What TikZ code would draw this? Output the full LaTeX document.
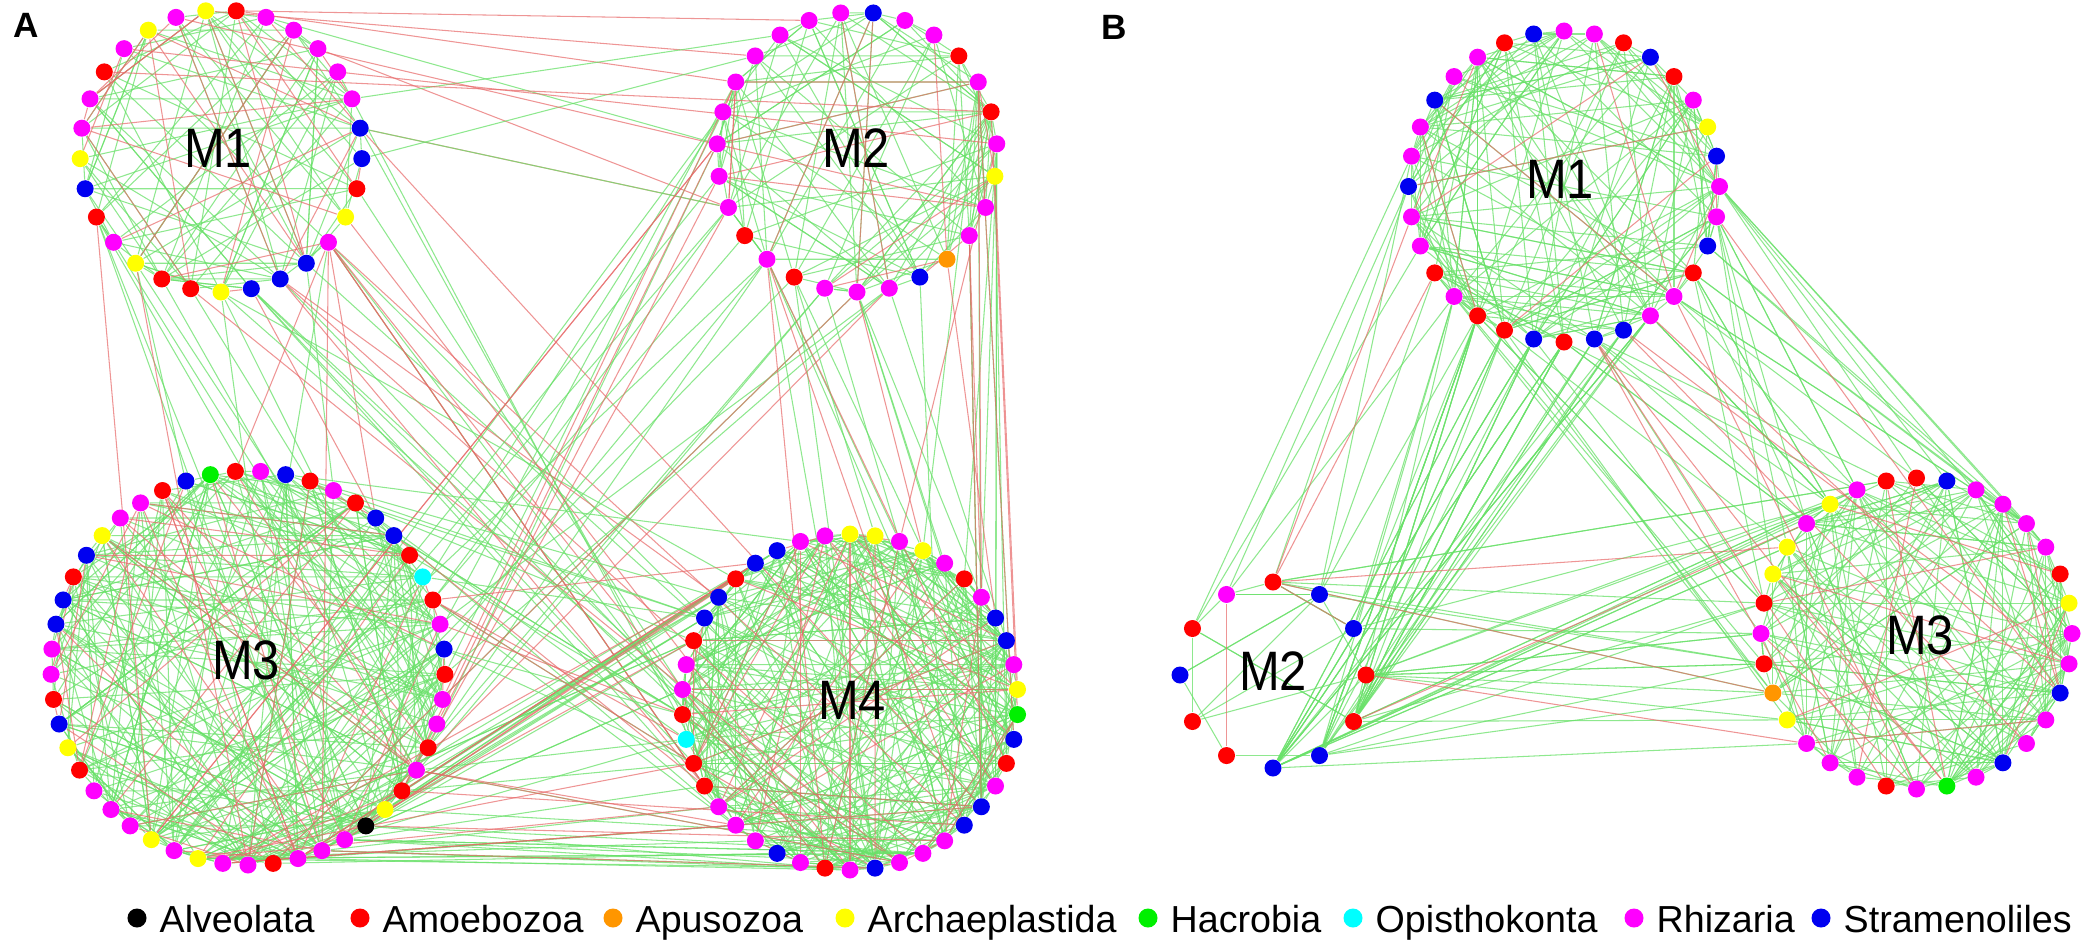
\documentclass[tikz,border=0pt]{standalone}
\usepackage[svgnames,dvipsnames]{xcolor}
\usepackage{fontspec}
\setmainfont{Liberation Sans}
\newfontfamily\labfont[FakeStretch=0.88]{Liberation Sans}
\usetikzlibrary{calc,backgrounds}
\definecolor{cK}{RGB}{0,0,0}
\definecolor{cR}{RGB}{255,0,0}
\definecolor{cO}{RGB}{255,150,0}
\definecolor{cY}{RGB}{255,255,0}
\definecolor{cG}{RGB}{0,240,0}
\definecolor{cC}{RGB}{0,255,255}
\definecolor{cM}{RGB}{255,0,255}
\definecolor{cB}{RGB}{0,0,240}
\definecolor{edgeG}{RGB}{105,225,105}
\definecolor{edgeR}{RGB}{232,105,105}
\tikzset{
  dot/.style={circle,inner sep=0pt,minimum size=0.17cm},
  gl/.style={edgeG,line width=0.3pt,opacity=0.75},
  rl/.style={edgeR,line width=0.3pt,opacity=0.7},
  modlab/.style={font=\labfont\fontsize{15.8}{18}\selectfont},
  panel/.style={font=\fontsize{10}{12}\selectfont\bfseries},
  legtxt/.style={font=\fontsize{10.7}{13}\selectfont,inner sep=0pt,anchor=base west}
}
% ring of taxa: name, centre, radius, first angle, size, colours
\newcommand\taxaring[6]{%
  \foreach \c [count=\i] in {#6}{
    \node[dot,fill=c\c] (#1-\i) at ($(#2)+({#4-(\i-1)*(360/#5)}:#3)$) {};
  }}
% random links inside one ring
\newcommand\chords[4]{%
  \foreach \k in {1,...,#2}{
    \pgfmathtruncatemacro\ia{random(1,#4)}
    \pgfmathtruncatemacro\ib{mod(\ia+random(1,#4-1)-1,#4)+1}
    \draw[#1] (#3-\ia) -- (#3-\ib);
  }}
% random links between two rings
\newcommand\bridge[8]{%
  \foreach \k in {1,...,#2}{
    \pgfmathtruncatemacro\ia{random(#4,#5)}
    \pgfmathtruncatemacro\ib{random(#7,#8)}
    \draw[#1] (#3-\ia) -- (#6-\ib);
  }}

\begin{document}
\begin{tikzpicture}[x=0.01cm,y=0.01cm]
  \useasboundingbox (0,0) rectangle (2085,944);
  \pgfmathsetseed{12}
  % panel A
  \taxaring{A1}{221,793}{141}{96.21}{29}{Y,R,M,M,M,M,M,B,B,R,Y,M,B,B,B,Y,R,R,Y,M,R,B,Y,M,M,R,M,Y,M}
  \taxaring{A2}{857,792}{140}{96.67}{27}{M,B,M,M,R,M,R,M,Y,M,M,O,B,M,M,M,R,M,R,M,M,M,M,M,M,M,M}
  \taxaring{A3}{248,276}{197}{93.67}{49}{R,M,B,R,M,R,B,B,R,C,R,M,B,R,M,M,R,M,R,Y,K,M,M,M,R,M,M,Y,M,Y,M,M,M,R,Y,B,R,M,M,B,B,R,B,Y,M,M,R,B,G}
  \taxaring{A4}{850,242}{168}{90}{42}{Y,Y,M,Y,M,R,M,B,B,M,Y,G,B,R,M,B,B,M,M,M,B,M,R,M,B,M,M,M,R,R,C,R,M,M,R,B,B,R,B,B,M,M}
  % panel B
  \taxaring{B1}{1564,757.5}{155.5}{90}{32}{M,M,R,B,R,M,Y,B,M,M,B,R,M,M,B,B,R,B,R,R,M,R,M,M,B,M,M,B,M,M,R,B}
  \taxaring{B2}{1273,269}{93}{90}{12}{R,B,B,R,R,B,B,R,R,B,R,M}
  \taxaring{B3}{1916.5,310.5}{155.5}{90}{32}{R,B,M,M,M,M,R,Y,M,M,B,M,M,B,M,G,M,R,M,M,M,Y,O,R,M,R,Y,Y,M,Y,M,R}

  \node[panel] (panA) at (26,919) {A};
  \node[panel] (panB) at (1114,917) {B};
  \node[modlab] (labA1) at (218,796) {M1};
  \node[modlab] (labA2) at (856,796) {M2};
  \node[modlab] (labA3) at (246,284) {M3};
  \node[modlab] (labA4) at (852,244) {M4};
  \node[modlab] (labB1) at (1560,765) {M1};
  \node[modlab] (labB2) at (1273,273) {M2};
  \node[modlab] (labB3) at (1920,309) {M3};

  % legend
  \foreach \c/\x/\t in {K/137/Alveolata,R/360/Amoebozoa,O/613/Apusozoa,Y/845/Archaeplastida,
      G/1148/Hacrobia,C/1353/Opisthokonta,M/1634/Rhizaria,B/1821/Stramenoliles}{
    \node[dot,minimum size=0.19cm,fill=c\c] (key\c) at (\x,26) {};
    \node[legtxt] (txt\c) at (\x+22,12) {\t};
  }

  \begin{pgfonlayer}{background}
    \fill[white] (0,0) rectangle (2085,944);
    % links inside modules
    \chords{gl}{90}{A1}{29}   \chords{rl}{25}{A1}{29}
    \chords{gl}{110}{A2}{27}  \chords{rl}{15}{A2}{27}
    \chords{gl}{240}{A3}{49}  \chords{rl}{40}{A3}{49}
    \chords{gl}{280}{A4}{42}  \chords{rl}{35}{A4}{42}
    \chords{gl}{170}{B1}{32}  \chords{rl}{10}{B1}{32}
    \chords{gl}{18}{B2}{12}   \chords{rl}{2}{B2}{12}
    \chords{gl}{170}{B3}{32}  \chords{rl}{12}{B3}{32}
    % links between modules, A
    \bridge{rl}{5}{A1}{1}{9}{A2}{20}{27}
    \bridge{gl}{4}{A1}{3}{10}{A2}{18}{26}
    \bridge{rl}{3}{A1}{26}{29}{A2}{7}{10}
    \bridge{gl}{12}{A1}{12}{21}{A3}{1}{30}
    \bridge{rl}{6}{A1}{12}{21}{A3}{1}{30}
    \bridge{gl}{14}{A1}{6}{16}{A4}{18}{42}
    \bridge{rl}{10}{A1}{8}{17}{A4}{10}{40}
    \bridge{gl}{18}{A2}{14}{24}{A3}{8}{30}
    \bridge{rl}{8}{A2}{14}{24}{A3}{8}{30}
    \bridge{gl}{22}{A2}{6}{18}{A4}{1}{24}
    \bridge{rl}{12}{A2}{6}{18}{A4}{1}{24}
    \bridge{gl}{40}{A3}{18}{28}{A4}{16}{40}
    \bridge{rl}{15}{A3}{18}{28}{A4}{16}{40}
    \bridge{gl}{15}{A3}{1}{16}{A4}{26}{42}
    \bridge{rl}{5}{A3}{1}{16}{A4}{26}{42}
    % links between modules, B
    \bridge{gl}{40}{B1}{14}{21}{B2}{5}{7}
    \bridge{gl}{6}{B1}{20}{26}{B2}{1}{3}
    \bridge{gl}{4}{B1}{20}{26}{B2}{11}{12}
    \bridge{rl}{2}{B1}{22}{24}{B2}{1}{1}
    \bridge{gl}{30}{B2}{1}{7}{B3}{21}{32}
    \bridge{rl}{4}{B2}{1}{7}{B3}{21}{32}
    \bridge{gl}{20}{B1}{10}{17}{B3}{26}{32}
    \bridge{gl}{12}{B1}{9}{13}{B3}{1}{8}
    \bridge{gl}{8}{B1}{18}{24}{B3}{22}{28}
    \bridge{rl}{8}{B1}{10}{17}{B3}{10}{20}
  \end{pgfonlayer}
\end{tikzpicture}
\end{document}
